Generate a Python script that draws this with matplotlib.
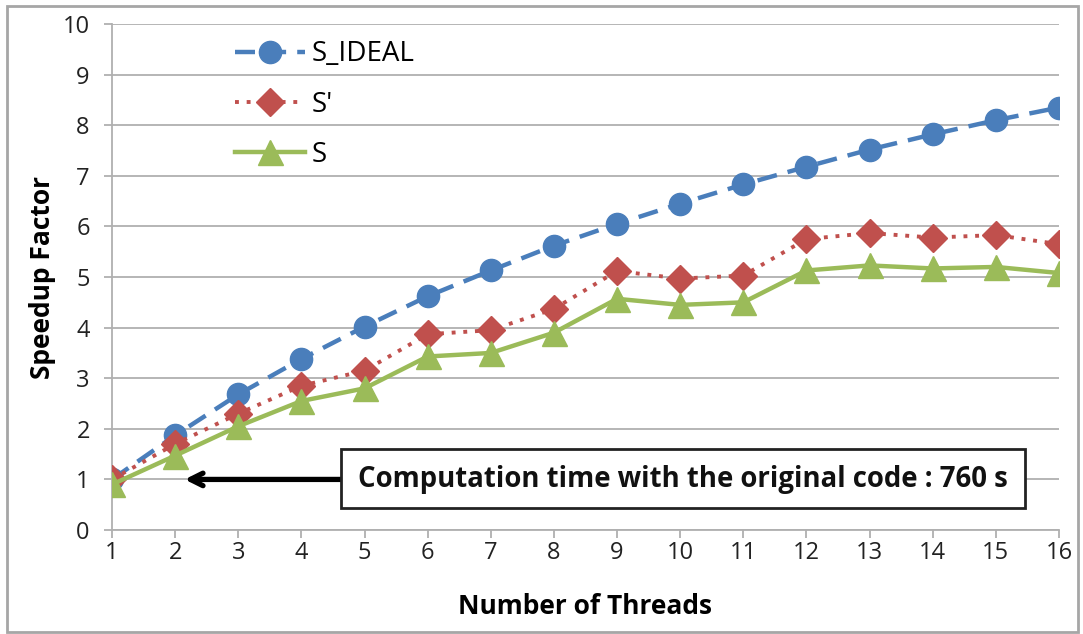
import numpy as np
from matplotlib import pyplot as plt
from matplotlib.patches import Rectangle

threads = list(range(1, 17))
s_ideal = [1.0, 1.87, 2.68, 3.38, 4.02, 4.62, 5.13, 5.62, 6.05, 6.45, 6.83, 7.18, 7.52, 7.82, 8.10, 8.35]
s_prime = [1.0, 1.70, 2.30, 2.85, 3.15, 3.87, 3.95, 4.37, 5.12, 4.97, 5.03, 5.75, 5.87, 5.78, 5.83, 5.65]
s_meas = [0.90, 1.47, 2.05, 2.55, 2.80, 3.43, 3.50, 3.90, 4.57, 4.45, 4.50, 5.13, 5.23, 5.17, 5.20, 5.08]

note = "Computation time with the original code : 760 s"

plt.rcParams['font.family'] = ['Open Sans', 'DejaVu Sans']

fig = plt.figure(figsize=(10.83, 6.34), dpi=100)
ax = fig.add_axes([0.1034, 0.164, 0.8744, 0.798])

grid_c = '#B0B0B0'
ax.plot(threads, s_ideal, color='#4A7EBB', lw=3.2, ls=(0, (4.5, 2.5)), marker='o', ms=16,
        label='S_IDEAL', zorder=3)
ax.plot(threads, s_prime, color='#C0504D', lw=2.8, ls=(0, (1, 2)), marker='D', ms=14,
        label="S'", zorder=4)
ax.plot(threads, s_meas, color='#9BBB59', lw=3.2, ls='-', marker='^', ms=18,
        label='S', zorder=5)

ax.set_xlim(1, 16)
ax.set_ylim(0, 10)
ax.set_xticks(threads)
ax.set_yticks(range(0, 11))
ax.yaxis.grid(True, color=grid_c, lw=1.3)
ax.set_axisbelow(True)
for side in ['top', 'right']:
    ax.spines[side].set_visible(False)
for side in ['left', 'bottom']:
    ax.spines[side].set_color(grid_c)
    ax.spines[side].set_linewidth(1.3)
ax.tick_params(axis='both', colors=grid_c, length=6, width=1.3, labelsize=17,
               labelcolor='#222222')
ax.tick_params(axis='x', pad=2)
ax.tick_params(axis='y', pad=10)
for t in ax.get_xticklabels() + ax.get_yticklabels():
    t.set_clip_on(False)

ax.set_xlabel('Number of Threads', fontsize=19, fontweight='bold', labelpad=20)
ax.set_ylabel('Speedup Factor', fontsize=19, fontweight='bold', labelpad=5)

leg = ax.legend(loc='upper left', bbox_to_anchor=(0.13, 0.968), frameon=False,
                fontsize=20, handlelength=2.5, handletextpad=0.25, labelspacing=0.8,
                borderpad=0, borderaxespad=0, numpoints=1)

# annotation box with arrow
ax.annotate('', xy=(2.15, 1.0), xytext=(4.63, 1.0),
            arrowprops=dict(arrowstyle='->,head_length=0.9,head_width=0.45',
                            color='black', lw=3.8, shrinkA=0, shrinkB=0), zorder=6)
ax.add_patch(Rectangle((4.63, 0.43), 15.47 - 4.63, 1.17, facecolor='white',
                       edgecolor='#222222', lw=2, zorder=7))
ax.text((4.63 + 15.47) / 2, 1.0, note, ha='center', va='center', fontsize=19.8,
        fontweight='bold', color='#111111', zorder=8)

fig.patches.append(Rectangle((0.0065, 0.003), 0.989, 0.988, transform=fig.transFigure,
                             fill=False, edgecolor='#A6A6A6', lw=2))

fig.savefig('out.png', dpi=100)
